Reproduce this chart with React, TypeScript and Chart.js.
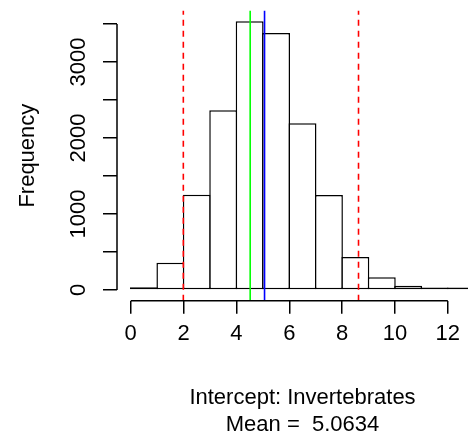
import React, { useEffect, useRef } from 'react';
import { Chart, registerables } from 'chart.js';

Chart.register(...registerables);

// ---- data ----
const binStarts = [0, 1, 2, 3, 4, 5, 6, 7, 8, 9, 10, 11, 12];
const binWidth = 1;
const counts = [35, 359, 1254, 2364, 3535, 3382, 2193, 1250, 434, 167, 55, 12, 14];
const xLimits = [-0.52, 13.52];
const yLimits = [-141.4, 3676.4];
const xTickValues = [0, 2, 4, 6, 8, 10, 12];
const yTickValues = [0, 500, 1000, 1500, 2000, 2500, 3000, 3500];
const yLabelStep = 1000;
const intervalLines = [1.99, 8.62];
const medianLines = [4.52];
const meanLines = [5.0634];
const xTitle = ['Intercept: Invertebrates', 'Mean =  5.0634'];
const yTitle = 'Frequency';

const FONT = { family: '"Liberation Sans", Arial, Helvetica, sans-serif', size: 22, lineHeight: 1.2 };
const LW = 1.5;
const ABLINE_W = 1.6;

const vline = (v: number) => [
  { x: v, y: yLimits[0] },
  { x: v, y: yLimits[1] },
];

const rAxisLines = {
  id: 'rAxisLines',
  afterDraw(chart: any) {
    const { ctx, chartArea, scales } = chart;
    const x = scales.x;
    const y = scales.y;
    const xt = x.ticks;
    const yt = y.ticks;
    ctx.save();
    ctx.strokeStyle = '#000';
    ctx.lineWidth = LW;
    ctx.beginPath();
    ctx.moveTo(x.getPixelForValue(xt[0].value), chartArea.bottom);
    ctx.lineTo(x.getPixelForValue(xt[xt.length - 1].value), chartArea.bottom);
    ctx.moveTo(chartArea.left, y.getPixelForValue(yt[0].value));
    ctx.lineTo(chartArea.left, y.getPixelForValue(yt[yt.length - 1].value));
    ctx.stroke();
    ctx.restore();
  },
};

export default function App() {
  const ref = useRef<HTMLCanvasElement | null>(null);

  useEffect(() => {
    document.body.style.margin = '0';
    document.body.style.overflow = 'hidden';
    const canvas = ref.current;
    if (!canvas) return;

    const lineDs = (vals: number[], color: string, dash: number[]) =>
      vals.map((v) => ({
        type: 'line' as const,
        data: vline(v),
        borderColor: color,
        borderWidth: ABLINE_W,
        borderDash: dash,
        pointRadius: 0,
        fill: false,
        order: 0,
      }));

    const chart = new Chart(canvas, {
      type: 'bar',
      data: {
        datasets: [
          {
            type: 'bar',
            data: binStarts.map((b, i) => ({ x: b + binWidth / 2, y: counts[i] })),
            backgroundColor: '#ffffff',
            borderColor: '#000000',
            borderWidth: LW,
            borderSkipped: false,
            inflateAmount: 0,
            grouped: false,
            minBarLength: 2.4,
            barThickness: (ctx: any) => {
              const s = ctx.chart.scales.x;
              if (!s) return 26;
              return Math.abs(s.getPixelForValue(binWidth) - s.getPixelForValue(0)) + LW;
            },
            order: 1,
          } as any,
          ...lineDs(intervalLines, '#ff0000', [6, 5]),
          ...lineDs(medianLines, '#00ff00', []),
          ...lineDs(meanLines, '#0000ff', []),
        ],
      },
      options: {
        responsive: false,
        animation: false,
        devicePixelRatio: 1,
        layout: { padding: { top: 10.6, right: 0, bottom: 0, left: 0 } },
        plugins: {
          legend: { display: false },
          tooltip: { enabled: false },
        },
        scales: {
          x: {
            type: 'linear',
            min: xLimits[0],
            max: xLimits[1],
            offset: false,
            border: { display: false },
            grid: {
              offset: false,
              drawOnChartArea: false,
              drawTicks: true,
              tickLength: 13,
              color: '#000',
              lineWidth: LW,
            },
            afterBuildTicks: (s: any) => {
              s.ticks = xTickValues.map((value) => ({ value }));
            },
            ticks: {
              autoSkip: false,
              maxRotation: 0,
              padding: 7,
              color: '#000',
              font: FONT,
              callback: (v: any) => String(v),
            },
            title: {
              display: true,
              text: xTitle,
              color: '#000',
              font: FONT,
              padding: { top: 0, bottom: -2 },
            },
            afterFit: (s: any) => {
              s.height = 135.3;
              s.paddingLeft = 0;
              s.paddingRight = 0;
            },
          },
          y: {
            type: 'linear',
            min: yLimits[0],
            max: yLimits[1],
            offset: false,
            border: { display: false },
            grid: {
              offset: false,
              drawOnChartArea: false,
              drawTicks: true,
              tickLength: 14,
              color: '#000',
              lineWidth: LW,
            },
            afterBuildTicks: (s: any) => {
              s.ticks = yTickValues.map((value) => ({ value }));
            },
            ticks: {
              autoSkip: false,
              minRotation: 90,
              maxRotation: 90,
              crossAlign: 'center',
              padding: 0,
              color: '#000',
              font: FONT,
              callback: (v: any) => (Number(v) % yLabelStep === 0 ? String(v) : ''),
            },
            title: {
              display: true,
              text: yTitle,
              color: '#000',
              font: FONT,
              padding: { top: 15, bottom: 0 },
            },
            afterFit: (s: any) => {
              s.width = 117;
              s.paddingTop = 0;
              s.paddingBottom = 0;
            },
          },
        },
      } as any,
      plugins: [rAxisLines],
    });

    return () => chart.destroy();
  }, []);

  return (
    <div style={{ width: 468, height: 436, overflow: 'hidden', background: '#fff' }}>
      <canvas ref={ref} width={488} height={436} style={{ display: 'block' }} />
    </div>
  );
}
